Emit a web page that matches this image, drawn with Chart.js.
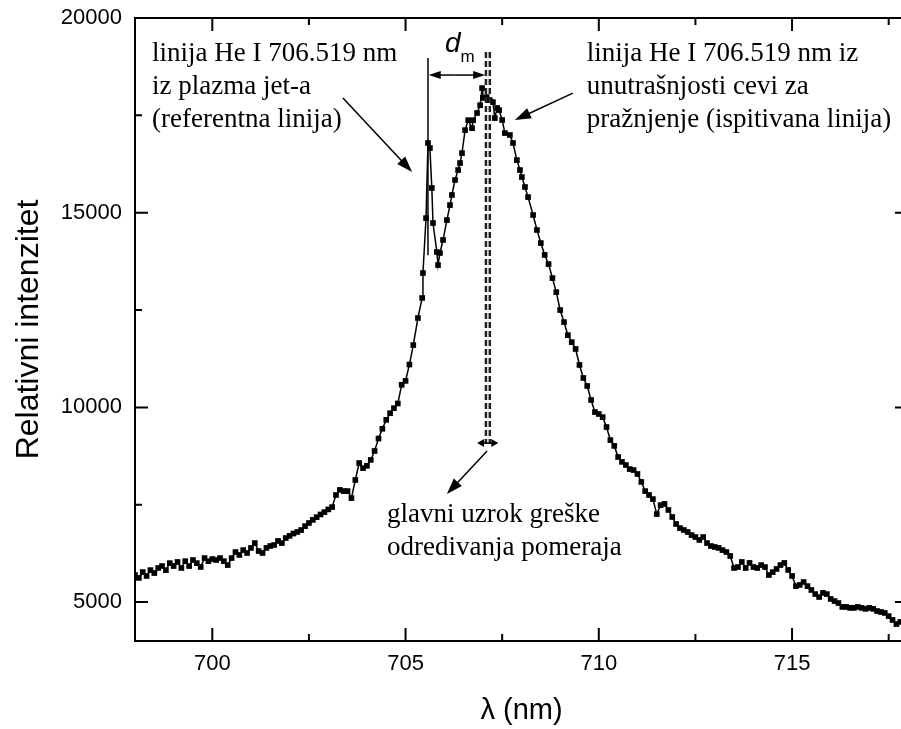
<!DOCTYPE html>
<html>
<head>
<meta charset="utf-8">
<script src="https://cdn.jsdelivr.net/npm/chart.js@4.4.1/dist/chart.umd.min.js"></script>
<style>
html, body { margin: 0; padding: 0; overflow: hidden; background: #fff; }
#wrap { position: relative; width: 930px; height: 729px; }
</style>
</head>
<body>
<div id="wrap"><canvas id="spectrum" width="930" height="729"></canvas></div>
<script>
const wavelength = [
  698.0, 698.1, 698.2, 698.3, 698.4, 698.5, 698.6, 698.7, 698.8, 698.9,
  699.0, 699.1, 699.2, 699.3, 699.4, 699.5, 699.6, 699.7, 699.8, 699.9,
  700.0, 700.1, 700.2, 700.3, 700.4, 700.5, 700.6, 700.7, 700.8, 700.9,
  701.0, 701.1, 701.2, 701.3, 701.4, 701.5, 701.6, 701.7, 701.8, 701.9,
  702.0, 702.1, 702.2, 702.3, 702.4, 702.5, 702.6, 702.7, 702.8, 702.9,
  703.0, 703.1, 703.2, 703.3, 703.4, 703.5, 703.6, 703.7, 703.8, 703.9,
  704.0, 704.1, 704.2, 704.3, 704.4, 704.5, 704.6, 704.7, 704.8, 704.9,
  705.0, 705.1, 705.2, 705.32, 705.43, 705.45, 705.53, 705.58, 705.63, 705.68,
  705.71, 705.81, 705.84, 705.89, 705.97, 706.07, 706.15, 706.2, 706.28, 706.36,
  706.41, 706.46, 706.54, 706.62, 706.72, 706.75, 706.85, 706.93, 706.98, 707.0,
  707.1, 707.18, 707.26, 707.31, 707.37, 707.42, 707.5, 707.57, 707.7, 707.78,
  707.88, 707.96, 708.01, 708.09, 708.17, 708.3, 708.4, 708.5, 708.6, 708.7,
  708.8, 708.9, 709.0, 709.1, 709.2, 709.3, 709.4, 709.5, 709.6, 709.7,
  709.8, 709.9, 710.0, 710.1, 710.2, 710.3, 710.4, 710.5, 710.6, 710.7,
  710.8, 710.9, 711.0, 711.1, 711.2, 711.3, 711.4, 711.5, 711.6, 711.7,
  711.8, 711.9, 712.0, 712.1, 712.2, 712.3, 712.4, 712.5, 712.6, 712.7,
  712.8, 712.9, 713.0, 713.1, 713.2, 713.3, 713.4, 713.5, 713.6, 713.7,
  713.8, 713.9, 714.0, 714.1, 714.2, 714.3, 714.4, 714.5, 714.6, 714.7,
  714.8, 714.9, 715.0, 715.1, 715.2, 715.3, 715.4, 715.5, 715.6, 715.7,
  715.8, 715.9, 716.0, 716.1, 716.2, 716.3, 716.4, 716.5, 716.6, 716.7,
  716.8, 716.9, 717.0, 717.1, 717.2, 717.3, 717.4, 717.5, 717.6, 717.7,
  717.8
];
const intensity = [
  5695, 5620, 5770, 5670, 5820, 5745, 5875, 5925, 5820, 6000,
  5925, 6030, 5875, 6050, 5925, 6080, 6000, 5900, 6130, 6050,
  6105, 6080, 6130, 6050, 5950, 6130, 6285, 6210, 6335, 6260,
  6390, 6515, 6310, 6260, 6390, 6440, 6465, 6570, 6515, 6645,
  6700, 6760, 6800, 6850, 6950, 7030, 7110, 7180, 7250, 7310,
  7380, 7440, 7750, 7880, 7850, 7850, 7670, 8135, 8570, 8440,
  8500, 8650, 8880, 9200, 9450, 9680, 9850, 9980, 10100, 10580,
  10680, 11100, 11600, 12295, 12810, 13450, 14860, 16790, 16660, 15635,
  14735, 13990, 13655, 13965, 14300, 14810, 15195, 15455, 15840, 16095,
  16275, 16530, 17120, 17375, 17170, 17375, 17560, 17760, 18200, 17945,
  17970, 17890, 17840, 17430, 17690, 17635, 17380, 17045, 16995, 16790,
  16350, 16095, 15915, 15660, 15400, 14940, 14555, 14220, 13915, 13680,
  13320, 12960, 12500, 12190, 11855, 11675, 11500, 11090, 10755, 10550,
  10190, 9880, 9830, 9750, 9495, 9160, 9010, 8725, 8600, 8520,
  8415, 8390, 8290, 8085, 7850, 7750, 7645, 7260, 7490, 7520,
  7365, 7185, 7005, 6900, 6850, 6800, 6720, 6670, 6595, 6670,
  6515, 6440, 6415, 6390, 6335, 6285, 6185, 5875, 5900, 6030,
  5875, 6005, 5900, 5875, 5950, 5900, 5695, 5770, 5850, 5950,
  6005, 5825, 5670, 5410, 5440, 5515, 5410, 5310, 5205, 5130,
  5235, 5205, 5080, 5025, 4975, 4875, 4875, 4850, 4850, 4875,
  4850, 4825, 4850, 4825, 4770, 4745, 4720, 4640, 4540, 4435,
  4490
];

const xTicks = [700, 705, 710, 715];
const xMinorTicks = [702.5, 707.5, 712.5, 717.5];
const yTicks = [5000, 10000, 15000, 20000];
const yMinorTicks = [7500, 12500, 17500];

const serif = '"Liberation Serif", "Times New Roman", serif';
const sans = '"Liberation Sans", Arial, sans-serif';

function drawArrow(ctx, x1, y1, x2, y2, len, half) {
    const ang = Math.atan2(y2 - y1, x2 - x1);
    ctx.beginPath();
    ctx.moveTo(x1, y1);
    ctx.lineTo(x2 - Math.cos(ang) * len * 0.6, y2 - Math.sin(ang) * len * 0.6);
    ctx.stroke();
    ctx.beginPath();
    ctx.moveTo(x2, y2);
    ctx.lineTo(x2 - Math.cos(ang) * len - Math.sin(ang) * half, y2 - Math.sin(ang) * len + Math.cos(ang) * half);
    ctx.lineTo(x2 - Math.cos(ang) * len + Math.sin(ang) * half, y2 - Math.sin(ang) * len - Math.cos(ang) * half);
    ctx.closePath();
    ctx.fill();
}

// box with inward ticks on all four sides
const framePlugin = {
    id: 'frame',
    afterDatasetsDraw(chart) {
        const {ctx, chartArea: a, scales: {x, y}} = chart;
        ctx.save();
        ctx.strokeStyle = '#000';
        ctx.lineWidth = 2;
        ctx.strokeRect(a.left, a.top, a.right - a.left, a.bottom - a.top);
        ctx.beginPath();
        const xt = (v, l) => {
            const p = x.getPixelForValue(v);
            ctx.moveTo(p, a.bottom); ctx.lineTo(p, a.bottom - l);
            ctx.moveTo(p, a.top); ctx.lineTo(p, a.top + l);
        };
        const yt = (v, l) => {
            const p = y.getPixelForValue(v);
            ctx.moveTo(a.left, p); ctx.lineTo(a.left + l, p);
            ctx.moveTo(a.right, p); ctx.lineTo(a.right - l, p);
        };
        xTicks.forEach(v => xt(v, 13));
        xMinorTicks.forEach(v => xt(v, 7));
        yTicks.forEach(v => yt(v, 13));
        yMinorTicks.forEach(v => yt(v, 7));
        ctx.stroke();
        ctx.restore();
    }
};

// lines, arrows and texts of the figure
const notesPlugin = {
    id: 'notes',
    afterDatasetsDraw(chart) {
        const {ctx, scales: {x, y}} = chart;
        const px = v => x.getPixelForValue(v);
        const py = v => y.getPixelForValue(v);
        ctx.save();
        ctx.strokeStyle = '#000';
        ctx.fillStyle = '#000';

        // reference line (plasma jet)
        ctx.lineWidth = 1.5;
        ctx.beginPath();
        ctx.moveTo(px(705.58), py(18970));
        ctx.lineTo(px(705.58), py(13910));
        ctx.stroke();

        // dashed double line (investigated line)
        ctx.lineWidth = 2.5;
        ctx.setLineDash([6, 3]);
        ctx.strokeStyle = '#222';
        [707.08, 707.18].forEach(v => {
            ctx.beginPath();
            ctx.moveTo(px(v), py(19130));
            ctx.lineTo(px(v), py(9060));
            ctx.stroke();
        });
        ctx.setLineDash([]);
        ctx.strokeStyle = '#000';

        // small bar at the lower end of the dashed lines
        ctx.lineWidth = 1.5;
        drawArrow(ctx, px(707.13), py(9085), px(706.85), py(9085), 7, 4);
        drawArrow(ctx, px(707.13), py(9085), px(707.40), py(9085), 7, 4);

        // d_m double arrow
        drawArrow(ctx, px(706.3), py(18535), px(705.60), py(18535), 12, 4);
        drawArrow(ctx, px(706.3), py(18535), px(707.06), py(18535), 12, 4);

        // pointer arrows
        drawArrow(ctx, px(703.38), py(17944), px(705.17), py(16044), 16, 5.5);
        drawArrow(ctx, px(709.33), py(18072), px(707.83), py(17380), 16, 5.5);
        drawArrow(ctx, px(707.11), py(8879), px(706.07), py(7775), 16, 5.5);

        // d_m label
        ctx.textAlign = 'left';
        ctx.textBaseline = 'alphabetic';
        ctx.font = 'italic 28px ' + sans;
        ctx.fillText('d', px(706.02), py(19126));
        ctx.font = '17px ' + sans;
        ctx.fillText('m', px(706.42), py(18870));

        // text blocks
        ctx.font = '27px ' + serif;
        const lines = [18894, 18047, 17200];
        ['linija He I 706.519 nm', 'iz plazma jet-a', '(referentna linija)']
            .forEach((t, i) => ctx.fillText(t, px(698.44), py(lines[i])));
        ['linija He I 706.519 nm iz', 'unutrašnjosti cevi za', 'pražnjenje (ispitivana linija)']
            .forEach((t, i) => ctx.fillText(t, px(709.69), py(lines[i])));
        ['glavni uzrok greške', 'odredivanja pomeraja']
            .forEach((t, i) => ctx.fillText(t, px(704.52), py([7056, 6208][i])));
        ctx.restore();
    }
};

const spectrumChart = new Chart(document.getElementById('spectrum'), {
    type: 'line',
    data: {
        datasets: [{
            data: wavelength.map((w, i) => ({x: w, y: intensity[i]})),
            borderColor: '#000',
            backgroundColor: '#000',
            borderWidth: 1.5,
            pointStyle: 'rect',
            pointRadius: 4,
            pointBorderWidth: 0,
            tension: 0,
            fill: false
        }]
    },
    options: {
        responsive: false,
        animation: false,
        layout: { autoPadding: false, padding: { top: 18, right: 22, bottom: 0, left: 0 } },
        plugins: {
            legend: { display: false },
            tooltip: { enabled: false }
        },
        scales: {
            x: {
                type: 'linear',
                min: 698,
                max: 718,
                afterBuildTicks: scale => { scale.ticks = xTicks.map(v => ({value: v})); },
                afterFit: scale => { scale.height = 88; scale.paddingLeft = 0; scale.paddingRight = 0; },
                grid: { display: false, drawTicks: false },
                border: { display: false },
                ticks: {
                    padding: 10,
                    color: '#000',
                    font: { family: sans, size: 22 },
                    maxRotation: 0,
                    callback: v => String(v)
                },
                title: {
                    display: true,
                    text: 'λ (nm)',
                    color: '#000',
                    font: { family: sans, size: 29 },
                    padding: { top: 0, bottom: 1 }
                }
            },
            y: {
                min: 4000,
                max: 20000,
                afterBuildTicks: scale => { scale.ticks = yTicks.map(v => ({value: v})); },
                afterFit: scale => { scale.width = 135; scale.paddingTop = 0; scale.paddingBottom = 0; },
                grid: { display: false, drawTicks: false },
                border: { display: false },
                ticks: {
                    padding: 13,
                    color: '#000',
                    font: { family: sans, size: 22 },
                    callback: v => String(v)
                },
                title: {
                    display: true,
                    text: 'Relativni intenzitet',
                    color: '#000',
                    font: { family: sans, size: 32 },
                    padding: { top: 10, bottom: 0 }
                }
            }
        }
    },
    plugins: [framePlugin, notesPlugin]
});
</script>
</body>
</html>
